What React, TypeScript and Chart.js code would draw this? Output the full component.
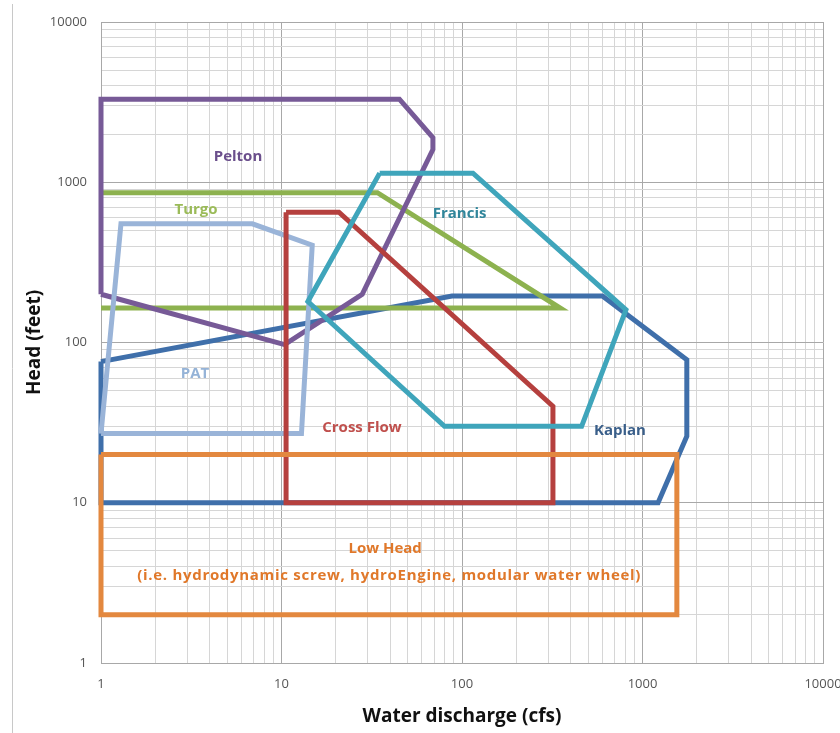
import React, { useEffect, useRef } from 'react';
import { Chart, registerables } from 'chart.js';

Chart.register(...registerables);

// Axis tick labels (powers of ten)
const xTickValues = [1, 10, 100, 1000, 10000];
const yTickValues = [1, 10, 100, 1000, 10000];

// Turbine application envelopes (x = discharge cfs, y = head feet)
const lowHeadX = [1, 1550, 1550, 1, 1];
const lowHeadY = [20, 20, 2, 2, 20];
const kaplanX = [1, 88, 600, 1760, 1760, 1220, 1, 1];
const kaplanY = [76, 195, 195, 78, 26, 10, 10, 76];
const francisX = [35, 115, 810, 460, 80, 14, 35];
const francisY = [1140, 1140, 160, 30, 30, 180, 1140];
const crossFlowX = [10.6, 20.8, 319, 319, 10.6, 10.6];
const crossFlowY = [650, 650, 40, 10, 10, 650];
const patX = [1, 1.29, 6.9, 14.8, 12.9, 1];
const patY = [27, 550, 550, 405, 27, 27];
const turgoX = [1, 34, 350, 1];
const turgoY = [860, 860, 164, 164];
const peltonX = [1, 1, 45, 69, 69, 28, 10.4, 1];
const peltonY = [200, 3300, 3300, 1900, 1600, 200, 97, 200];

// In-chart labels
const labelTexts = [
  'Pelton',
  'Turgo',
  'Francis',
  'PAT',
  'Cross Flow',
  'Kaplan',
  'Low Head',
  '(i.e. hydrodynamic screw, hydroEngine, modular water wheel)',
];
const labelX = [5.74, 3.36, 97, 3.32, 27.9, 750, 37.5, 39.5];
const labelY = [1440, 676, 632, 64, 29.4, 28.1, 5.15, 3.5];
const labelColors = ['#6B4F8C', '#9BBB59', '#31869B', '#95B3D7', '#C0504D', '#3A5F8A', '#E0782A', '#E0782A'];

const xTitle = 'Water discharge (cfs)';
const yTitle = 'Head (feet)';

const toPts = (xs: number[], ys: number[]) => xs.map((x, i) => ({ x, y: ys[i] }));

const isPow10 = (v: number) => {
  const l = Math.log10(v);
  return Math.abs(l - Math.round(l)) < 1e-9;
};

const buildTicks = (min: number, max: number) => {
  const out: { value: number }[] = [];
  for (let e = Math.log10(min); e < Math.log10(max); e++) {
    for (let m = 1; m <= 9; m++) out.push({ value: m * Math.pow(10, e) });
  }
  out.push({ value: max });
  return out;
};

const FONT = "'Open Sans', 'Liberation Sans', sans-serif";

const overlayPlugin = {
  id: 'overlay',
  afterDatasetsDraw(chart: any) {
    const { ctx, scales } = chart;
    const xs = scales.x;
    const ys = scales.y;
    ctx.save();
    ctx.textAlign = 'center';
    ctx.textBaseline = 'middle';
    labelTexts.forEach((t, i) => {
      ctx.fillStyle = labelColors[i];
      ctx.font = `bold 15px ${FONT}`;
      ctx.letterSpacing = i === 7 ? '0.7px' : '0px';
      ctx.fillText(t, xs.getPixelForValue(labelX[i]), ys.getPixelForValue(labelY[i]));
    });
    ctx.restore();
  },
  afterDraw(chart: any) {
    const { ctx, chartArea } = chart;
    ctx.save();
    // frame line at left
    ctx.strokeStyle = '#C8C8C8';
    ctx.lineWidth = 1;
    ctx.beginPath();
    ctx.moveTo(12.5, 4);
    ctx.lineTo(12.5, 733);
    ctx.stroke();
    // axis titles
    ctx.fillStyle = '#111111';
    ctx.font = `bold 19px ${FONT}`;
    ctx.textAlign = 'center';
    ctx.textBaseline = 'middle';
    ctx.fillText(xTitle, (chartArea.left + chartArea.right) / 2, 717);
    ctx.translate(35, (chartArea.top + chartArea.bottom) / 2);
    ctx.rotate(-Math.PI / 2);
    ctx.fillText(yTitle, 0, 0);
    ctx.restore();
  },
};

const gridColor = (ctx: any) => (isPow10(ctx.tick.value) ? '#A8A8A8' : '#D6D6D6');

export default function App() {
  const ref = useRef<HTMLCanvasElement | null>(null);

  useEffect(() => {
    if (!ref.current) return;
    const mk = (label: string, xs: number[], ys: number[], color: string) => ({
      label,
      data: toPts(xs, ys),
      borderColor: color,
      backgroundColor: color,
      borderWidth: 5,
      pointRadius: 0,
      showLine: true,
      fill: false,
      tension: 0,
      clip: 5,
      borderJoinStyle: 'miter' as const,
    });
    const chart = new Chart(ref.current, {
      type: 'scatter',
      data: {
        datasets: [
          mk('Low Head', lowHeadX, lowHeadY, '#E3883F'),
          mk('Francis', francisX, francisY, '#3FA5BB'),
          mk('Cross Flow', crossFlowX, crossFlowY, '#B5403E'),
          mk('PAT', patX, patY, '#9AB4D8'),
          mk('Pelton', peltonX, peltonY, '#775A97'),
          mk('Turgo', turgoX, turgoY, '#8DB24F'),
          mk('Kaplan', kaplanX, kaplanY, '#3F6FAA'),
        ],
      },
      options: {
        animation: false,
        responsive: false,
        maintainAspectRatio: false,
        layout: { padding: { left: 0, right: 17, top: 22, bottom: 0 } },
        plugins: {
          legend: { display: false },
          tooltip: { enabled: false },
          title: { display: false },
        },
        scales: {
          x: {
            type: 'logarithmic',
            min: 1,
            max: 10000,
            afterBuildTicks: (s: any) => {
              s.ticks = buildTicks(1, 10000);
            },
            afterFit: (s: any) => {
              s.height = 70;
              s.paddingLeft = 0;
              s.paddingRight = 0;
            },
            grid: { color: gridColor, drawTicks: false, lineWidth: 1 },
            border: { display: true, color: '#A8A8A8' },
            ticks: {
              autoSkip: false,
              maxRotation: 0,
              minRotation: 0,
              padding: 13,
              color: '#555555',
              font: { family: FONT, size: 13 },
              callback: (v: any) => (xTickValues.includes(Number(v)) ? String(Number(v)) : ''),
            },
          },
          y: {
            type: 'logarithmic',
            min: 1,
            max: 10000,
            afterBuildTicks: (s: any) => {
              s.ticks = buildTicks(1, 10000);
            },
            afterFit: (s: any) => {
              s.width = 101;
              s.paddingTop = 0;
              s.paddingBottom = 0;
            },
            grid: { color: gridColor, drawTicks: false, lineWidth: 1 },
            border: { display: true, color: '#A8A8A8' },
            ticks: {
              autoSkip: false,
              padding: 14,
              color: '#555555',
              font: { family: FONT, size: 13 },
              callback: (v: any) => (yTickValues.includes(Number(v)) ? String(Number(v)) : ''),
            },
          },
        },
      },
      plugins: [overlayPlugin],
    });
    return () => chart.destroy();
  }, []);

  return (
    <div style={{ position: 'fixed', left: 0, top: 0, width: 840, height: 733, background: '#ffffff' }}>
      <canvas ref={ref} width={840} height={733} style={{ width: 840, height: 733 }} />
    </div>
  );
}
